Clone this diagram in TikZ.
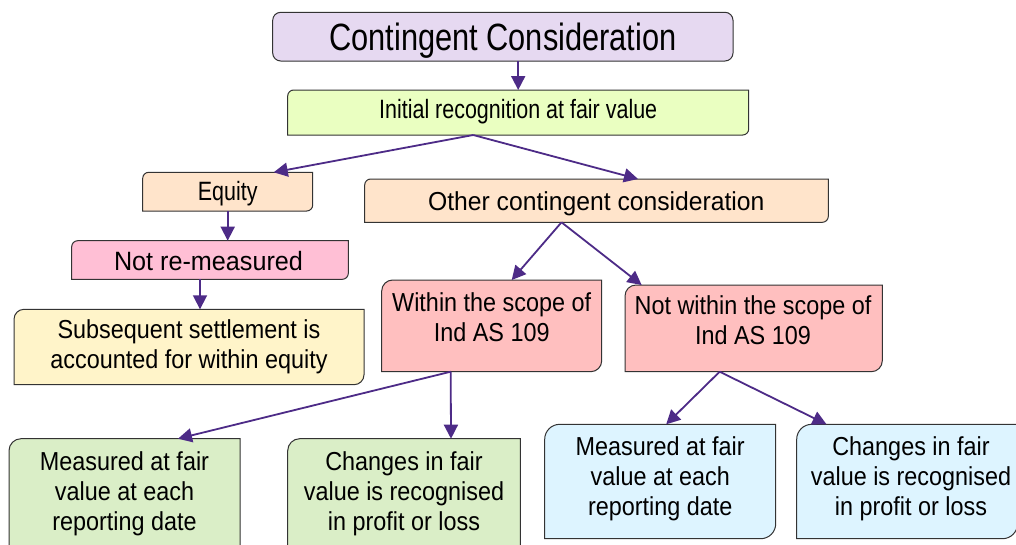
\documentclass[tikz,border=0pt]{standalone}
\usepackage{fontspec}
\setmainfont{Liberation Sans}[FakeStretch=0.90]
\newfontfamily\nrwf{Liberation Sans}[FakeStretch=0.81]
\newfontfamily\widf{Liberation Sans}[FakeStretch=0.95]
\usetikzlibrary{arrows.meta,fit}
\definecolor{arrc}{HTML}{4D2B87}
\definecolor{edgec}{HTML}{333333}
\definecolor{cTitle}{HTML}{E6D9F1}
\definecolor{cInit}{HTML}{EAFFC1}
\definecolor{cPeach}{HTML}{FFE4CB}
\definecolor{cPink}{HTML}{FFBFD5}
\definecolor{cCream}{HTML}{FFF4C9}
\definecolor{cSalmon}{HTML}{FFBFBF}
\definecolor{cGreen}{HTML}{DAEEC7}
\definecolor{cBlue}{HTML}{DDF4FF}
\newcommand\tlbr[3]{%
  \draw[boxline,fill=#2] (#1.south west) -- ([yshift=-#3pt]#1.north west)
    arc[start angle=180,end angle=90,radius=#3pt] -- (#1.north east)
    -- ([yshift=#3pt]#1.south east)
    arc[start angle=0,end angle=-90,radius=#3pt] -- cycle;}
\begin{document}
\begin{tikzpicture}[x=1pt,y=1pt,
  boxline/.style={draw=edgec, line width=1pt},
  arr/.style={draw=arrc, line width=1.8pt, -{Triangle[length=14pt,width=14pt]}},
  txt/.style={font=\fontsize{26}{30}\selectfont, align=center, inner sep=0pt},
  bx/.style={inner sep=0pt, outer sep=0pt}]
\useasboundingbox (0,0) rectangle (1016,-544);
\clip (0,0) rectangle (1016,-544);
\fill[white] (0,0) rectangle (1016,-544);
% box frames
\node[bx, fit={(272.7,-12.3) (733,-61)}] (title) {};
\node[bx, fit={(287.7,-90) (748.7,-135)}] (init) {};
\node[bx, fit={(142.7,-172.3) (312.7,-211)}] (eq) {};
\node[bx, fit={(364.7,-179) (828.3,-222.3)}] (other) {};
\node[bx, fit={(71.7,-240.7) (348.3,-279.3)}] (notre) {};
\node[bx, fit={(14,-309.3) (364,-384.7)}] (subs) {};
\node[bx, fit={(381.7,-280) (601.7,-371.7)}] (within) {};
\node[bx, fit={(625,-285) (882.3,-371.7)}] (notwithin) {};
\node[bx, fit={(9,-438.7) (240,-570)}] (green1) {};
\node[bx, fit={(287.7,-438.7) (520.3,-570)}] (green2) {};
\node[bx, fit={(544.7,-424.3) (775.7,-538.7)}] (blue1) {};
\node[bx, fit={(796.7,-424.3) (1017.5,-538.7)}] (blue2) {};
% shapes
\draw[boxline, fill=cTitle, rounded corners=8pt] (title.south west) rectangle (title.north east);
\tlbr{init}{cInit}{6}
\tlbr{eq}{cPeach}{6}
\tlbr{other}{cPeach}{6}
\tlbr{notre}{cPink}{6}
\tlbr{subs}{cCream}{10}
\tlbr{within}{cSalmon}{11}
\tlbr{notwithin}{cSalmon}{11}
\tlbr{green1}{cGreen}{12}
\tlbr{green2}{cGreen}{12}
\tlbr{blue1}{cBlue}{15}
\tlbr{blue2}{cBlue}{15}
% texts
\node[txt, anchor=base, font=\nrwf\fontsize{38}{44}\selectfont] (ttitle) at (502.9,-50.7) {Contingent Consideration};
\node[txt, anchor=base, font=\nrwf\fontsize{26.5}{30}\selectfont] (tinit) at (518.2,-118.3) {Initial recognition at fair value};
\node[txt, anchor=base, font=\nrwf\fontsize{26.5}{30}\selectfont] (teq) at (227.7,-200.7) {Equity};
\node[txt, anchor=base, font=\widf\fontsize{26}{30}\selectfont] (tother) at (596.3,-210.7) {Other contingent consideration};
\node[txt, anchor=base, font=\widf\fontsize{26.5}{30}\selectfont] (tnotre) at (208.5,-270.2) {Not re-measured};
\node[txt] (tsubs) at (189,-347) {Subsequent settlement is\\accounted for within equity};
\node[txt] (twithin) at (491.7,-317) {Within the scope of\\Ind AS 109};
\node[txt] (tnotwithin) at (753,-320.5) {Not within the scope of\\Ind AS 109};
\node[txt] (tgreen1) at (124.5,-494) {Measured at fair\\value at each\\reporting date};
\node[txt] (tgreen2) at (404,-494) {Changes in fair\\value is recognised\\in profit or loss};
\node[txt] (tblue1) at (660.2,-479) {Measured at fair\\value at each\\reporting date};
\node[txt] (tblue2) at (911,-479) {Changes in fair\\value is recognised\\in profit or loss};
% connectors
\draw[arr] (title.south -| init.north) -- (init.north);
\draw[arr] ([xshift=-45pt]init.south) -- ([xshift=46pt]eq.north);
\draw[arr] ([xshift=-45pt]init.south) -- ([xshift=41.5pt]other.north);
\draw[arr] (eq.south) -- (eq.south |- notre.north);
\draw[arr] ([xshift=-10pt]notre.south) -- ([xshift=11pt]subs.north);
\draw[arr] ([xshift=-35pt]other.south) -- ([xshift=20pt]within.north);
\draw[arr] ([xshift=-35pt]other.south) -- ([xshift=-112pt]notwithin.north);
\draw[arr] ([xshift=-41pt]within.south) -- ([xshift=53.5pt]green1.north);
\draw[arr] ([xshift=-41pt]within.south) -- ([xshift=47pt]green2.north);
\draw[arr] ([xshift=-34pt]notwithin.south) -- ([xshift=6pt]blue1.north);
\draw[arr] ([xshift=-34pt]notwithin.south) -- ([xshift=-80.6pt]blue2.north);
\end{tikzpicture}
\end{document}
